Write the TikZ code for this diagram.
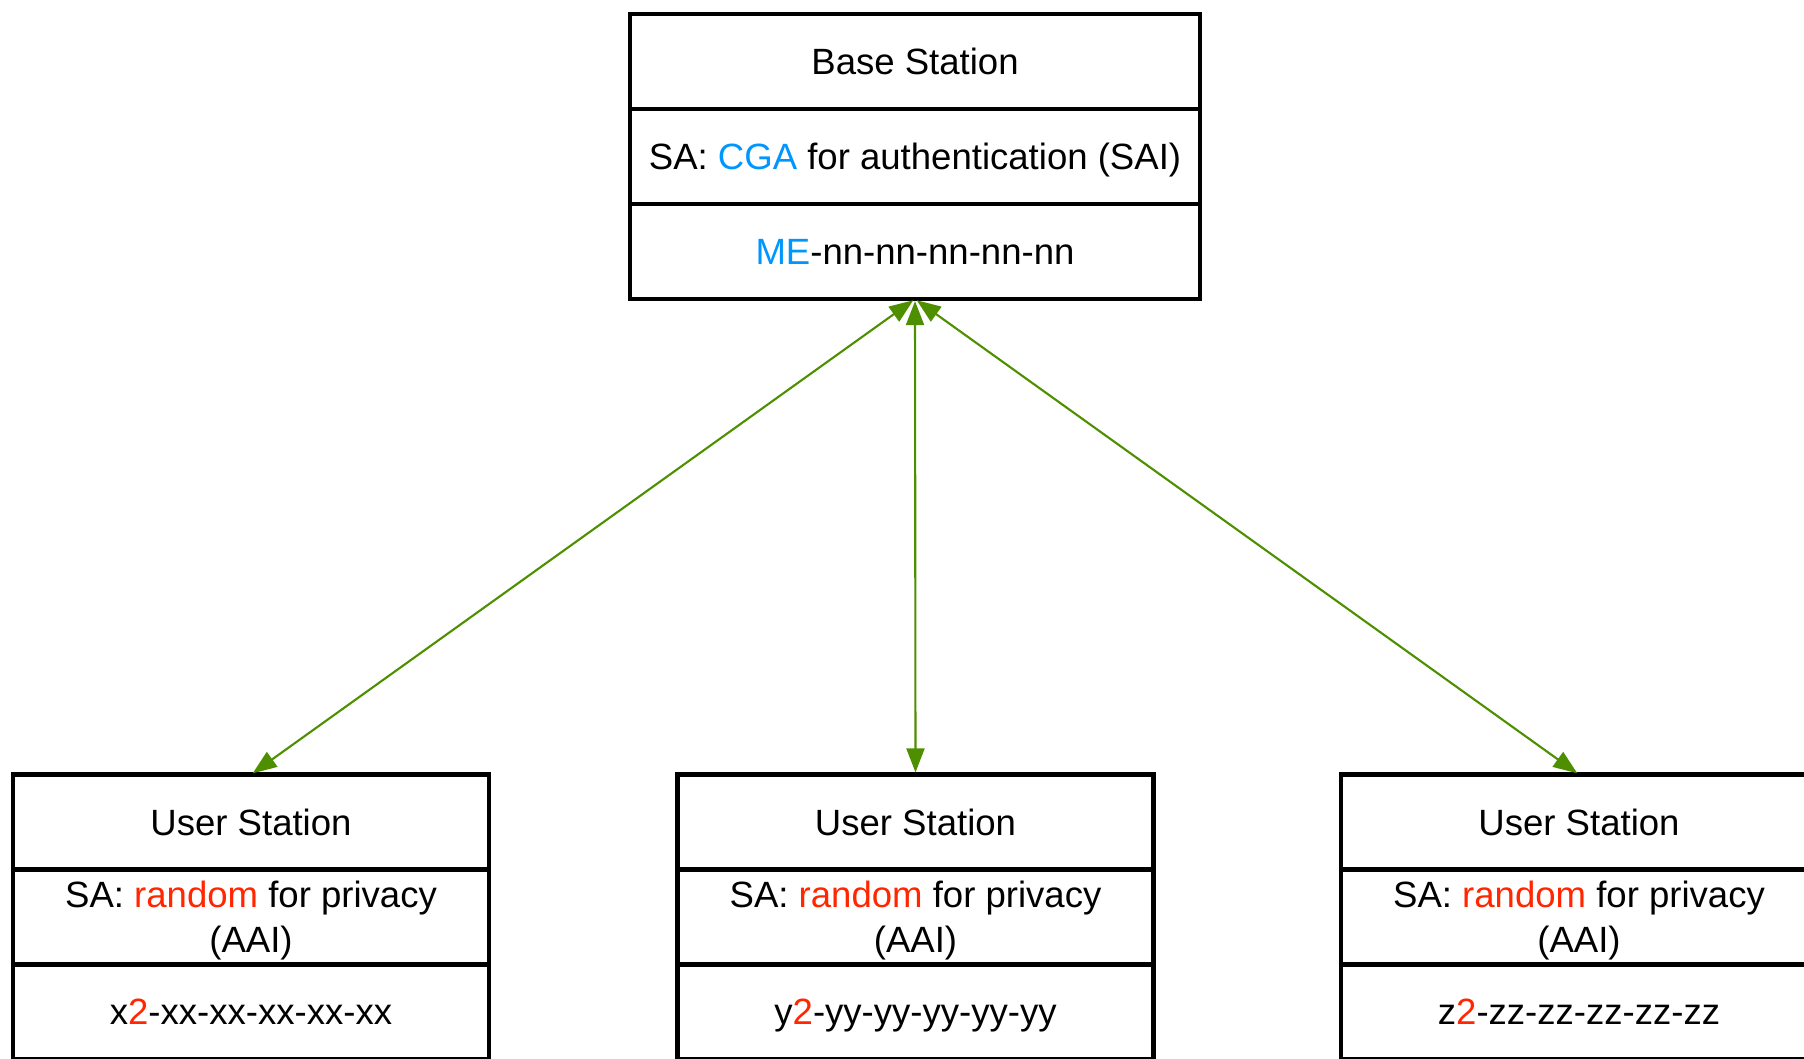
\documentclass[tikz,border=0pt]{standalone}
\usepackage{fontspec}
\setmainfont{Liberation Sans}
\usetikzlibrary{arrows.meta, positioning}
\definecolor{cgablue}{RGB}{0,150,255}
\definecolor{randred}{RGB}{255,38,0}
\definecolor{linkgreen}{RGB}{78,143,0}

\tikzset{
  row/.style={draw, line width=1.2pt, outer sep=0pt, inner sep=0pt, minimum height=0.95cm,
    text depth=0pt, align=center, font=\fontsize{10.4}{12.8}\selectfont},
  bsrow/.style={row, minimum width=5.70cm},
  usrow/.style={row, minimum width=4.76cm},
  link/.style={linkgreen, line width=0.6pt, shorten <=0.6pt, shorten >=0.6pt,
    {Triangle[length=0.24cm,width=0.18cm]}-{Triangle[length=0.24cm,width=0.18cm]}}
}

\begin{document}
\begin{tikzpicture}
\useasboundingbox (0,0) rectangle (18.04,-10.58);

% Base Station: nombre, SA y dirección
\node[bsrow] (bs1) at (9.15,-0.615) {Base Station};
\node[bsrow, below=0pt of bs1] (bs2) {SA: \textcolor{cgablue}{CGA} for authentication (SAI)};
\node[bsrow, below=0pt of bs2] (bs3) {\textcolor{cgablue}{ME}-nn-nn-nn-nn-nn};

% User Station 1: dirección x2
\node[usrow] (ux1) at (2.51,-8.22) {User Station};
\node[usrow, below=0pt of ux1] (ux2) {SA: \textcolor{randred}{random} for privacy\\(AAI)};
\node[usrow, below=0pt of ux2] (ux3) {x\textcolor{randred}{2}-xx-xx-xx-xx-xx};

% User Station 2: dirección y2
\node[usrow] (uy1) at (9.155,-8.22) {User Station};
\node[usrow, below=0pt of uy1] (uy2) {SA: \textcolor{randred}{random} for privacy\\(AAI)};
\node[usrow, below=0pt of uy2] (uy3) {y\textcolor{randred}{2}-yy-yy-yy-yy-yy};

% User Station 3: dirección z2
\node[usrow] (uz1) at (15.79,-8.22) {User Station};
\node[usrow, below=0pt of uz1] (uz2) {SA: \textcolor{randred}{random} for privacy\\(AAI)};
\node[usrow, below=0pt of uz2] (uz3) {z\textcolor{randred}{2}-zz-zz-zz-zz-zz};

% Enlaces
\draw[link] (bs3.south) -- (ux1.north);
\draw[link] (bs3.south) -- (uy1.north);
\draw[link] (bs3.south) -- (uz1.north);
\end{tikzpicture}
\end{document}
